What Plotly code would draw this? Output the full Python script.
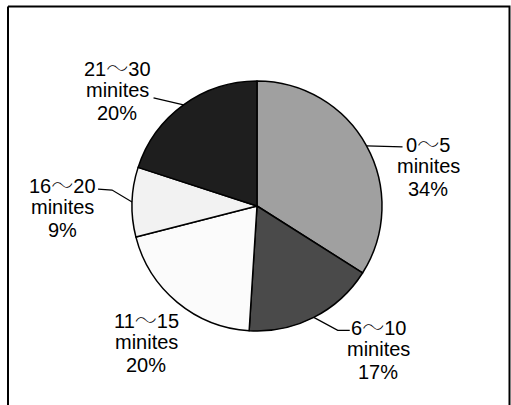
import math
import plotly.graph_objects as go

# Commute time shares
categories = ["0～5", "6～10", "11～15", "16～20", "21～30"]
shares = [34, 17, 20, 9, 20]
unit_label = "minites"

slice_colors = ["#a0a0a0", "#4a4a4a", "#fbfbfb", "#f2f2f2", "#1e1e1e"]

W, H = 511, 405
CX, CY, R = 257, 206, 125  # pie centre / radius in pixels


def px(x):
    return x / W


def py(y):
    return 1 - y / H


fig = go.Figure(go.Pie(
    labels=categories,
    values=shares,
    sort=False,
    direction="clockwise",
    rotation=0,
    textinfo="none",
    hoverinfo="label+percent",
    marker=dict(colors=slice_colors, line=dict(color="#000000", width=1.5)),
    domain=dict(x=[px(CX - R), px(CX + R)], y=[py(CY + R), py(CY - R)]),
    showlegend=False,
))

# Mid-angle edge points of each slice (clockwise from 12 o'clock)
total = sum(shares)
edges = []
acc = 0
for v in shares:
    mid = (acc + v / 2) / total * 2 * math.pi
    edges.append((CX + R * math.sin(mid), CY - R * math.cos(mid)))
    acc += v

# Leader line bends (pixel offsets from the slice edge) and label centres
leader_offsets = [
    [(36, 1)],
    [(24, 13), (36, 13)],
    None,
    [(-20, -12), (-34, -13)],
    [(-30, -7)],
]
label_centres = [(428, 142), (378, 325), (146, 318), (62, 183), (117, 66)]
line_gap = 23.5

shapes = [dict(type="path", xref="paper", yref="paper",
               path=f"M {px(8)},{py(6.5)} L {px(509.5)},{py(6.5)} L {px(509.5)},{py(420)} "
                    f"M {px(8)},{py(6.5)} L {px(8)},{py(420)}",
               line=dict(color="#000000", width=2))]

for (ex, ey), offs in zip(edges, leader_offsets):
    if not offs:
        continue
    pts = [(ex, ey)] + [(ex + dx, ey + dy) for dx, dy in offs]
    path = "M " + " L ".join(f"{px(x)},{py(y)}" for x, y in pts)
    shapes.append(dict(type="path", xref="paper", yref="paper", path=path,
                       line=dict(color="#000000", width=1.2)))


def range_text(cat):
    # light, slightly enlarged wave dash between the two numbers
    a, b = cat.split("～")
    return (f"{a}<span style='font-family:Noto Sans CJK JP;font-weight:100;"
            f"font-size:22px'>～</span>{b}")


annotations = []
for cat, v, (lx, ly) in zip(categories, shares, label_centres):
    for i, t in enumerate([range_text(cat), unit_label, f"{v}%"]):
        annotations.append(dict(
            x=px(lx), y=py(ly + i * line_gap), xref="paper", yref="paper",
            text=t, showarrow=False, xanchor="center", yanchor="middle",
            font=dict(family="Liberation Sans, Arial, sans-serif", size=20, color="#000000"),
        ))

fig.update_layout(
    width=W, height=H,
    margin=dict(l=0, r=0, t=0, b=0),
    paper_bgcolor="#ffffff",
    plot_bgcolor="#ffffff",
    shapes=shapes,
    annotations=annotations,
)

fig.write_html("out.html")
